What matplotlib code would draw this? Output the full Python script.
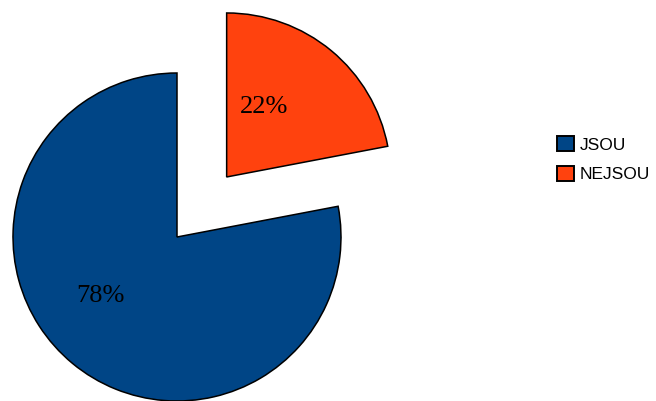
import matplotlib.pyplot as plt
import numpy as np
from matplotlib.patches import Patch

labels = ["JSOU", "NEJSOU"]
shares = [78, 22]
colors = ["#004586", "#ff420e"]
explode = [0, 0.475]  # fraction of the radius
# where each percent label sits: (distance as fraction of radius, angle in degrees)
label_pos = [(0.59, 217.5), (0.48, 62.0)]

W, H = 656, 401
fig = plt.figure(figsize=(W / 100, H / 100), dpi=100)
ax = fig.add_axes([0, 0, 1, 1])

R = 164
# pie order: NEJSOU first so it starts at 12 o'clock going clockwise
# (matplotlib's explode is in data units, so scale by the radius)
wedges, _ = ax.pie(shares[::-1], colors=colors[::-1],
                   explode=[e * R for e in explode[::-1]],
                   startangle=90, counterclock=False, center=(177, H - 237),
                   radius=R, wedgeprops=dict(edgecolor="black", linewidth=1.1),
                   frame=True)
ax.set_xlim(0, W)
ax.set_ylim(0, H)
ax.set_aspect("equal")
ax.axis("off")

for w, val, (d, ang) in zip(wedges, shares[::-1], label_pos[::-1]):
    cx, cy = w.center
    a = np.radians(ang)
    ax.text(cx + d * R * np.cos(a), cy + d * R * np.sin(a), f"{val}%",
            ha="center", va="center", fontsize=19, family="Liberation Serif",
            color="black")

handles = [Patch(facecolor=c, edgecolor="black", linewidth=1.4) for c in colors]
fig.legend(handles, labels, loc="upper left", bbox_to_anchor=(545 / W, 1 - 124 / H),
           frameon=False, prop=dict(family="Liberation Sans", size=12.5),
           handlelength=0.95, handleheight=0.95, handletextpad=0.35,
           labelspacing=0.75, borderpad=0.2)

fig.savefig("out.png", dpi=100)
